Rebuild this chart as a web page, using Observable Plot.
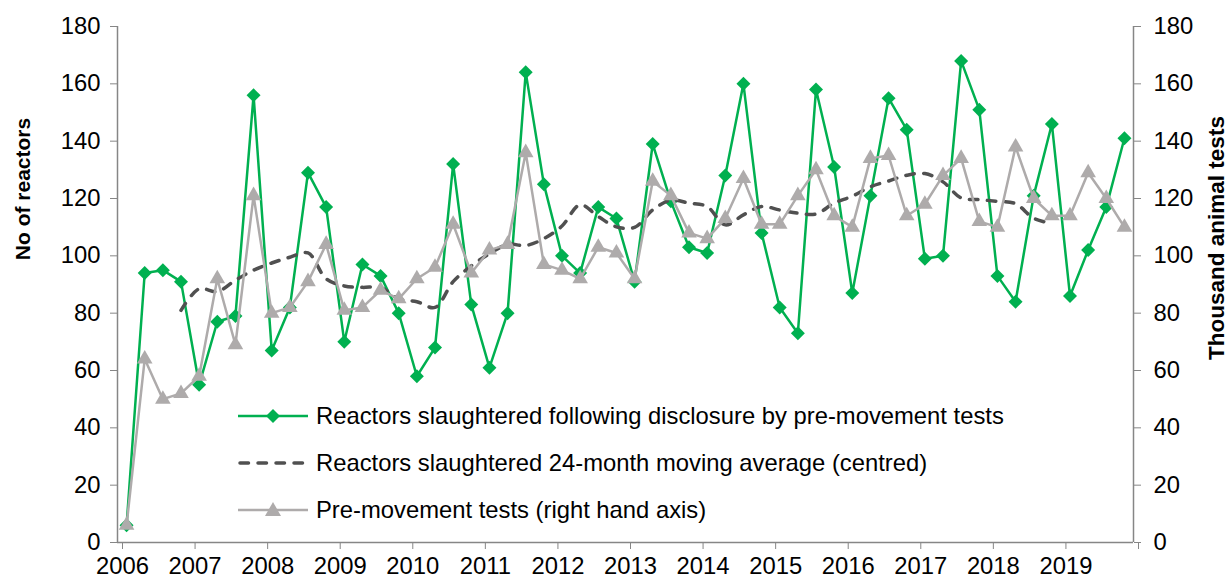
<!DOCTYPE html>
<html><head><meta charset="utf-8">
<script src="https://cdn.jsdelivr.net/npm/d3@7"></script>
<script src="https://cdn.jsdelivr.net/npm/@observablehq/plot@0.6"></script>
<style>
body{margin:0;background:#fff;font-family:"Liberation Sans",Arial,sans-serif;}
#wrap{position:relative;width:1229px;height:580px;overflow:hidden;}
.ytitle{position:absolute;font-weight:bold;white-space:nowrap;transform:translate(-50%,-50%) rotate(-90deg);color:#000;}
.lrow{position:absolute;left:238px;display:flex;align-items:center;font-size:23.8px;color:#000;white-space:nowrap;}
.lrow svg{margin-right:8px;}
</style></head><body><div id="wrap"></div>
<script>
// ---- data ----
const years = [2006,2007,2008,2009,2010,2011,2012,2013,2014,2015,2016,2017,2018,2019];
const quarters = ["Q1","Q2","Q3","Q4"];
// Reactors slaughtered following disclosure by pre-movement tests (quarterly)
const reactors = [6,94,95,91, 55,77,79,156, 67,82,129,117, 70,97,93,80,
                  58,68,132,83, 61,80,164,125, 100,94,117,113, 91,139,119,103,
                  101,128,160,108, 82,73,158,131, 87,121,155,144, 99,100,168,151,
                  93,84,121,146, 86,102,117,141];
// Pre-movement tests, thousand (right hand axis)
const tests = [6,64,50,52, 58,92,69,121, 80,82,91,104, 81,82,88,85,
               92,96,111,94, 102,104,136,97, 95,92,103,101, 92,126,121,108,
               106,113,127,111, 111,121,130,114, 110,134,135,114, 118,128,134,112,
               110,138,120,114, 114,129,120,110];
// 24-month moving average (centred), from 2006 Q4 to 2018 Q4
const maStart = {year:2006, quarter:"Q4"};
const movingAvg = [81,88.5,87.5,91.5,95,97.5,99.5,101,92,89.5,89,89,85,84,82,91,96.5,
                   100.7,104,103.6,106,110.4,117.8,113.7,110.1,109.9,116,119.4,118.4,117.2,
                   110.8,114.3,117.2,116,114.9,114.6,118.4,120.8,124.1,126.1,128.1,128.7,
                   125.8,120.2,119.6,119,118.2,113.1,111.3];
const yTicks = [0,20,40,60,80,100,120,140,160,180];
const xTicks = [2006,2007,2008,2009,2010,2011,2012,2013,2014,2015,2016,2017,2018,2019,2020];

const legendItems = [
  {label:"Reactors slaughtered following disclosure by pre-movement tests", kind:"diamond"},
  {label:"Reactors slaughtered 24-month moving average (centred)", kind:"dash"},
  {label:"Pre-movement tests (right hand axis)", kind:"triangle"}
];
const leftTitle = "No of reactors";
const rightTitle = "Thousand animal tests";

// ---- build ----
const periods = years.flatMap(y => quarters.map((q,k) => ({year:y, q, x: y + (k*3+1.5)/12})));
const rData = periods.map((p,i) => ({x:p.x, v:reactors[i]}));
const tData = periods.map((p,i) => ({x:p.x, v:tests[i]}));
const startIdx = periods.findIndex(p => p.year===maStart.year && p.q===maStart.quarter);
const mData = movingAvg.map((v,i) => ({x:periods[startIdx+i].x, v}));

const GREEN="#00B050", GRAY="#AEABAB", DARK="#505050", AXIS="#868686";
const FS = 23.8;

const chart = Plot.plot({
  width:1229, height:580,
  marginLeft:117, marginRight:96, marginTop:26, marginBottom:38,
  x:{domain:[2006,2020]},
  y:{domain:[0,180]},
  style:{fontFamily:"'Liberation Sans', Arial, sans-serif", fontSize:FS+"px", background:"#fff", color:"#000"},
  marks:[
    Plot.axisY({anchor:"left", ticks:yTicks, tickSize:7, tickPadding:10, stroke:AXIS, fill:"#000", fontSize:FS, label:null}),
    Plot.axisY({anchor:"right", ticks:yTicks, tickSize:7, tickPadding:13, stroke:AXIS, fill:"#000", fontSize:FS, label:null}),
    Plot.axisX({ticks:xTicks, tickFormat:d => d<2020 ? String(d) : "", tickSize:7, tickPadding:8, dx:5, stroke:AXIS, fill:"#000", fontSize:FS, label:null}),
    Plot.ruleX([2006], {stroke:AXIS, strokeWidth:1.5}),
    Plot.ruleX([2020], {stroke:AXIS, strokeWidth:1.5}),
    Plot.ruleY([0], {stroke:AXIS, strokeWidth:1.5}),
    Plot.line(rData, {x:"x", y:"v", stroke:GREEN, strokeWidth:2.5}),
    Plot.dot(rData, {x:"x", y:"v", symbol:"diamond2", fill:GREEN, r:6.3}),
    Plot.line(mData, {x:"x", y:"v", stroke:DARK, strokeWidth:3.5, strokeDasharray:"8.5,9.5", strokeLinecap:"round", curve:"catmull-rom"}),
    Plot.line(tData, {x:"x", y:"v", stroke:GRAY, strokeWidth:2.5}),
    Plot.dot(tData, {x:"x", y:"v", symbol:"triangle", fill:GRAY, r:5.8})
  ]
});
const wrap = document.getElementById("wrap");
wrap.appendChild(chart);

// axis titles
const t1 = document.createElement("div"); t1.className="ytitle"; t1.textContent=leftTitle;
t1.style.left="23px"; t1.style.top="189px"; t1.style.fontSize="21px"; wrap.appendChild(t1);
const t2 = document.createElement("div"); t2.className="ytitle"; t2.textContent=rightTitle;
t2.style.left="1217px"; t2.style.top="238px"; t2.style.fontSize="22.5px"; wrap.appendChild(t2);

// legend
const rowY = [416,463,510];
legendItems.forEach((it,i) => {
  const row = document.createElement("div"); row.className="lrow";
  row.style.top = (rowY[i]-14)+"px"; row.style.height="28px";
  const ns="http://www.w3.org/2000/svg";
  const s = document.createElementNS(ns,"svg"); s.setAttribute("width","70"); s.setAttribute("height","28");
  const ln = document.createElementNS(ns,"line");
  ln.setAttribute("x1","0"); ln.setAttribute("x2","70"); ln.setAttribute("y1","14"); ln.setAttribute("y2","14");
  if (it.kind==="diamond") {
    ln.setAttribute("stroke",GREEN); ln.setAttribute("stroke-width","2.5"); s.appendChild(ln);
    const p=document.createElementNS(ns,"path"); p.setAttribute("d","M35,7L42,14L35,21L28,14Z"); p.setAttribute("fill",GREEN); s.appendChild(p);
  } else if (it.kind==="dash") {
    ln.setAttribute("x1","2"); ln.setAttribute("x2","68");
    ln.setAttribute("stroke",DARK); ln.setAttribute("stroke-width","3.5"); ln.setAttribute("stroke-dasharray","8.5,9.5"); ln.setAttribute("stroke-linecap","round"); s.appendChild(ln);
  } else {
    ln.setAttribute("stroke",GRAY); ln.setAttribute("stroke-width","2.5"); s.appendChild(ln);
    const p=document.createElementNS(ns,"path"); p.setAttribute("d","M35,6L43,20L27,20Z"); p.setAttribute("fill",GRAY); s.appendChild(p);
  }
  row.appendChild(s);
  const sp=document.createElement("span"); sp.textContent=it.label; row.appendChild(sp);
  wrap.appendChild(row);
});
</script></body></html>
